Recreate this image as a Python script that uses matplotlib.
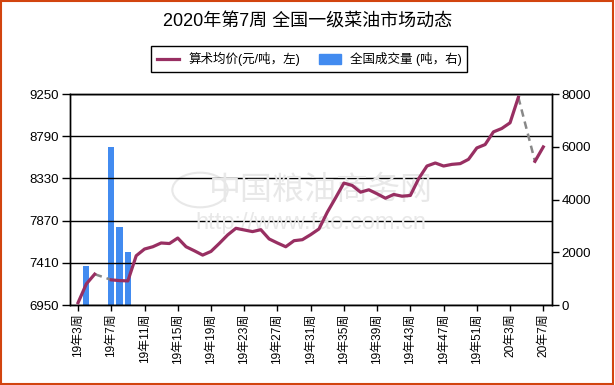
import numpy as np
import matplotlib
matplotlib.use("Agg")
import matplotlib.pyplot as plt
from matplotlib.patches import Rectangle, Circle

plt.rcParams['font.family'] = ['Liberation Sans', 'Noto Sans CJK SC', 'DejaVu Sans']

# categories: 19年3周 .. 19年52周, 20年1周 .. 20年7周
weeks = ['19年%d周' % w for w in range(3, 53)] + ['20年%d周' % w for w in range(1, 8)]

# 算术均价 (元/吨), nan = no quote that week
price = [6975, 7180, 7286, np.nan, 7224, 7216, 7213, 7487, 7560, 7585,
         7626, 7620, 7680, 7585, 7541, 7494, 7534, 7621, 7713, 7786,
         7768, 7750, 7771, 7670, 7626, 7585, 7651, 7662, 7717, 7779,
         7961, 8118, 8279, 8253, 8180, 8206, 8162, 8114, 8155, 8136,
         8144, 8327, 8465, 8498, 8465, 8483, 8491, 8538, 8662, 8699,
         8837, 8874, 8936, 9214, np.nan, 8516, 8673]

# 全国成交量 (吨)
volume_idx = [1, 4, 5, 6]
volume = [1480, 5980, 2970, 2000]

left_ticks = [6950, 7410, 7870, 8330, 8790, 9250]
right_ticks = [0, 2000, 4000, 6000, 8000]

line_color = '#982F62'
bar_color = '#428BF0'

fig = plt.figure(figsize=(6.15, 3.85), dpi=100)
ax = fig.add_axes([70 / 615, 1 - 305 / 385, 482 / 615, 211 / 385])
ax2 = ax.twinx()

x = np.arange(len(weeks))
p = np.array(price, dtype=float)

# bars on right axis, drawn behind the line
ax2.bar(volume_idx, volume, width=0.75, color=bar_color, zorder=1)
ax2.set_ylim(0, 8000)
ax2.set_yticks(right_ticks)
ax2.tick_params(axis='y', length=5, width=1, labelsize=9.5, pad=2, colors='black')

# line on left axis
ax.set_zorder(ax2.get_zorder() + 1)
ax.patch.set_visible(False)
ax.plot(x, p, color=line_color, lw=2.3, solid_joinstyle='round', zorder=5)
# dashed grey connector across missing weeks
for i in range(1, len(p) - 1):
    if np.isnan(p[i]) and not np.isnan(p[i - 1]) and not np.isnan(p[i + 1]):
        ax.plot([x[i - 1], x[i + 1]], [p[i - 1], p[i + 1]], color='#888888',
                lw=1.8, ls=(0, (3, 2)), zorder=4)

ax.set_ylim(6950, 9250)
ax.set_yticks(left_ticks)
ax.set_xlim(-0.97, 57.05)
ax.set_xticks(x[::4])
ax.set_xticklabels(weeks[::4], rotation=90, fontsize=8.6, va='top', ha='center')
ax.tick_params(axis='x', length=4, width=1, pad=2)
ax.tick_params(axis='y', length=6, width=1, labelsize=9.5, pad=2)
for yv in left_ticks:
    ax.axhline(yv, color='black', lw=1, zorder=0)
for s in ax.spines.values():
    s.set_linewidth(1)
for s in ax2.spines.values():
    s.set_linewidth(1)

# watermark
ax.text(0.52, 0.545, '中国粮油商务网', transform=ax.transAxes, fontsize=23,
        color='#e8e8e8', ha='center', va='center', zorder=0,
        family=['Noto Sans CJK SC'])
ax.text(0.5, 0.39, 'http://www.fao.com.cn', transform=ax.transAxes, fontsize=17,
        color='#e8e8e8', ha='center', va='center', zorder=0)
fig.patches.append(Circle((200 / 615, 1 - 190 / 385), 0.045, transform=fig.transFigure,
                          fill=False, ec='#e8e8e8', lw=1.5, zorder=0))

fig.text(0.5, 1 - 22 / 385, '2020年第7周 全国一级菜油市场动态', ha='center', va='center',
         fontsize=13)

h1, = ax.plot([], [], color=line_color, lw=2.3)
h2 = Rectangle((0, 0), 1, 1, color=bar_color)
leg = fig.legend([h1, h2], ['算术均价(元/吨，左)', '全国成交量 (吨，右)'], loc='center',
                 bbox_to_anchor=(0.503, 1 - 59 / 385), ncol=2, fontsize=9,
                 fancybox=False, edgecolor='black', framealpha=1, handlelength=1.8,
                 handleheight=0.8, columnspacing=1.5, borderpad=0.45, handletextpad=0.7)
leg.get_frame().set_linewidth(1)

fig.patches.append(Rectangle((0.002, 0.003), 0.994, 0.994, transform=fig.transFigure,
                             fill=False, ec='#D2440F', lw=1.5))

fig.savefig('out.png', dpi=100)
